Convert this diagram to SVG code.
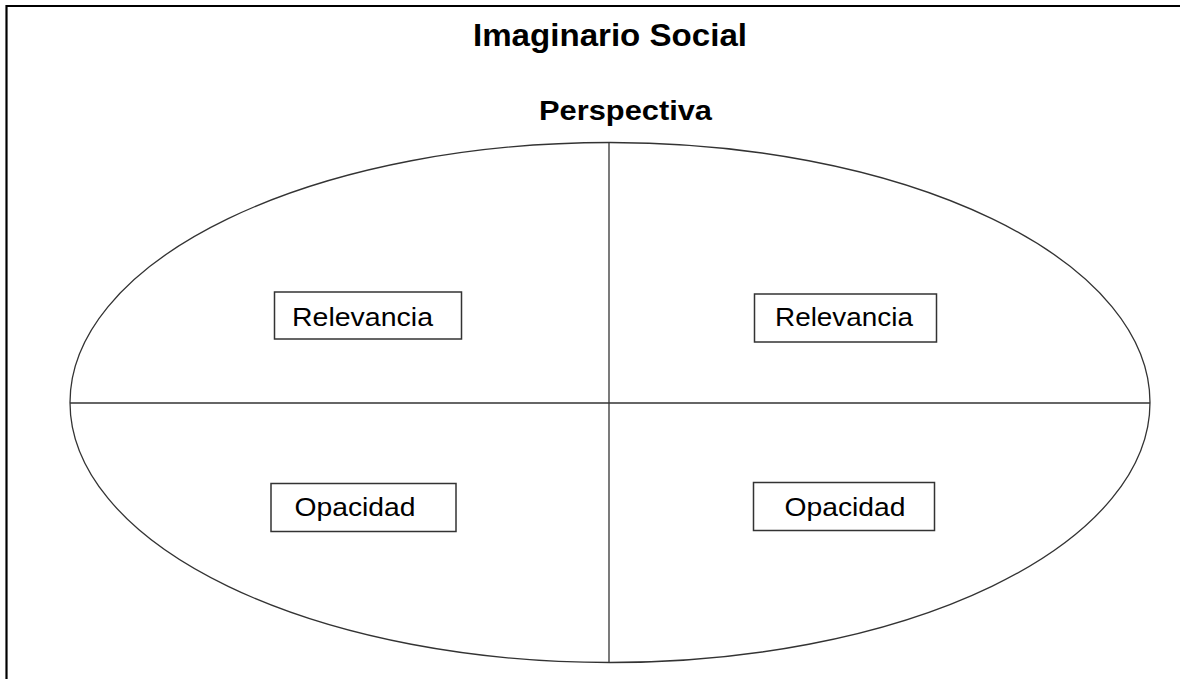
<svg xmlns="http://www.w3.org/2000/svg" width="1180" height="679" viewBox="0 0 1180 679">
<style>
.bg{fill:#fff}
.frame{stroke:#000;stroke-width:2.2;fill:none}
.line{stroke:#333;stroke-width:1.3;fill:none}
.box{fill:#fff;stroke:#333;stroke-width:1.5}
.lbl{font-family:"Liberation Sans",Arial,sans-serif;font-size:26px;fill:#000}
.ttl{font-family:"Liberation Sans",Arial,sans-serif;font-weight:bold;fill:#000}
</style>
<rect class="bg" x="0" y="0" width="1180" height="679"/>
<g id="frame">
<line class="frame" x1="6.5" y1="6" x2="1180" y2="6"/>
<line class="frame" x1="6.5" y1="5" x2="6.5" y2="679"/>
</g>
<text id="title" class="ttl" x="610" y="46" font-size="31" text-anchor="middle" textLength="274" lengthAdjust="spacingAndGlyphs">Imaginario Social</text>
<text id="subtitle" class="ttl" x="625.5" y="120" font-size="27" text-anchor="middle" textLength="173" lengthAdjust="spacingAndGlyphs">Perspectiva</text>
<g id="connectors">
<ellipse class="line" cx="610" cy="402.5" rx="540" ry="260"/>
<line class="line" x1="70" y1="403" x2="1150" y2="403"/>
<line class="line" x1="609" y1="142.5" x2="609" y2="662.5"/>
</g>
<g id="relevancia-left">
<rect class="box" x="274.5" y="292" width="187" height="47"/>
<text class="lbl" x="292" y="326" textLength="141" lengthAdjust="spacingAndGlyphs">Relevancia</text>
</g>
<g id="relevancia-right">
<rect class="box" x="754.5" y="294" width="182" height="48"/>
<text class="lbl" x="775" y="326" textLength="138" lengthAdjust="spacingAndGlyphs">Relevancia</text>
</g>
<g id="opacidad-left">
<rect class="box" x="271" y="483.5" width="185" height="48"/>
<text class="lbl" x="294.5" y="516" textLength="121" lengthAdjust="spacingAndGlyphs">Opacidad</text>
</g>
<g id="opacidad-right">
<rect class="box" x="753.5" y="482.5" width="181" height="48"/>
<text class="lbl" x="784.5" y="516" textLength="121" lengthAdjust="spacingAndGlyphs">Opacidad</text>
</g>
</svg>
